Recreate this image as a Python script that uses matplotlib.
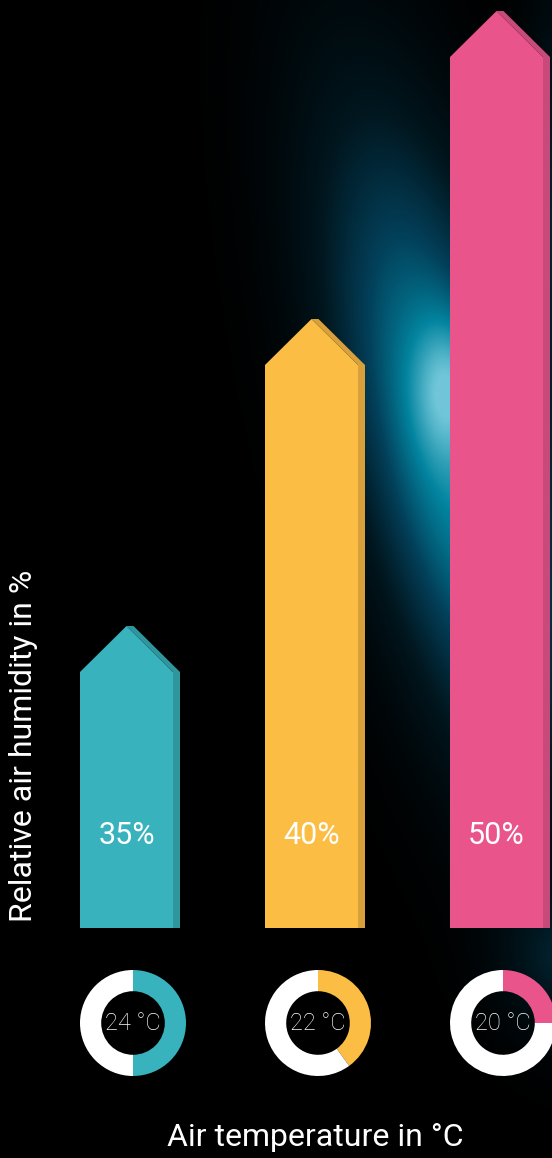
import numpy as np
import matplotlib.pyplot as plt
from matplotlib.patches import Polygon
from matplotlib.colors import LinearSegmentedColormap

# data
temps = ["24 °C", "22 °C", "20 °C"]
humidity = [35, 40, 50]
bar_level = [2.56, 5.63, 8.71]      # drawn height of each arrow (arbitrary units)
ring_share = [0.50, 0.40, 0.25]     # filled part of each temperature ring
colors = ["#38b2bc", "#fbbd44", "#e9548a"]
side_colors = ["#2f969e", "#d8a03a", "#c74a7a"]

W, H = 552, 1158
FONT = ["Roboto", "DejaVu Sans"]
fig = plt.figure(figsize=(W / 100, H / 100), dpi=100, facecolor="black")
ax = fig.add_axes([0, 0, 1, 1])
ax.set_xlim(-130 / 185, (W - 130) / 185)
ax.set_ylim(-2.30, 9.28)
ax.axis("off")

# blue glow in the background
yy, xx = np.mgrid[0:H, 0:W].astype(float)
ang = np.deg2rad(14)
dx, dy = xx - 450, yy - 450
u = dx * np.cos(ang) - dy * np.sin(ang)
v = dx * np.sin(ang) + dy * np.cos(ang)
glow = 0.78 * np.exp(-(u / 95) ** 2 - (v / 330) ** 2)
glow += 0.28 * np.exp(-((xx - 448) / 35) ** 2 - ((yy - 385) / 70) ** 2)
glow += 0.25 * np.exp(-((xx - 560) / 60) ** 2 - ((yy - 960) / 70) ** 2)
glow += 0.30 * np.exp(-((xx - 560) / 40) ** 2 - ((yy - 200) / 200) ** 2)
glow = np.clip(glow, 0, 1)
cmap = LinearSegmentedColormap.from_list(
    "glow", ["#000000", "#01161e", "#03405a", "#02849f", "#70c6d8"])
ax.imshow(glow, cmap=cmap, vmin=0, vmax=1, origin="upper",
          extent=[*ax.get_xlim(), *ax.get_ylim()], aspect="auto", zorder=0)

bw = 100 / 185      # bar width
sw = 7 / 185        # dark side strip
tip = 0.46          # arrow head height
for i, (h, c, sc) in enumerate(zip(bar_level, colors, side_colors)):
    left = i - bw / 2
    right = i + bw / 2
    fr = right - sw
    mid = (left + fr) / 2
    ax.add_patch(Polygon([(left, 0), (left, h), (mid, h + tip), (fr, h), (fr, 0)],
                         closed=True, fc=c, ec="none", zorder=2))
    ax.add_patch(Polygon([(mid, h + tip), (mid + sw, h + tip), (right, h),
                          (right, 0), (fr, 0), (fr, h)],
                         closed=True, fc=sc, ec="none", zorder=2))
    ax.text(i - sw / 2, 0.92, f"{humidity[i]}%", color="white", fontsize=22,
            ha="center", va="center", zorder=3, family=FONT)

# temperature rings
fig.canvas.draw()
for i, (share, c, t) in enumerate(zip(ring_share, colors, temps)):
    cx, cy = ax.transData.transform((i, -0.95))
    r = 53
    pax = fig.add_axes([(cx - r + 3) / W, (cy - r) / H, 2 * r / W, 2 * r / H])
    pax.pie([share, 1 - share], colors=[c, "white"], startangle=90,
            counterclock=False, radius=1,
            wedgeprops=dict(width=0.4, edgecolor="none"))
    pax.set_xlim(-1, 1)
    pax.set_ylim(-1, 1)
    pax.set_aspect("equal")
    pax.text(0, 0, t, color="white", fontsize=17, ha="center", va="center",
             fontweight="light", family=FONT)

ax.text(-0.573, 1.82, "Relative air humidity in %", rotation=90, color="white",
        fontsize=23, ha="center", va="center", family=FONT)
ax.text(1.0, -2.10, "Air temperature in °C", color="white", fontsize=23,
        ha="center", va="center", family=FONT)

fig.savefig("out.png", dpi=100, facecolor="black")
